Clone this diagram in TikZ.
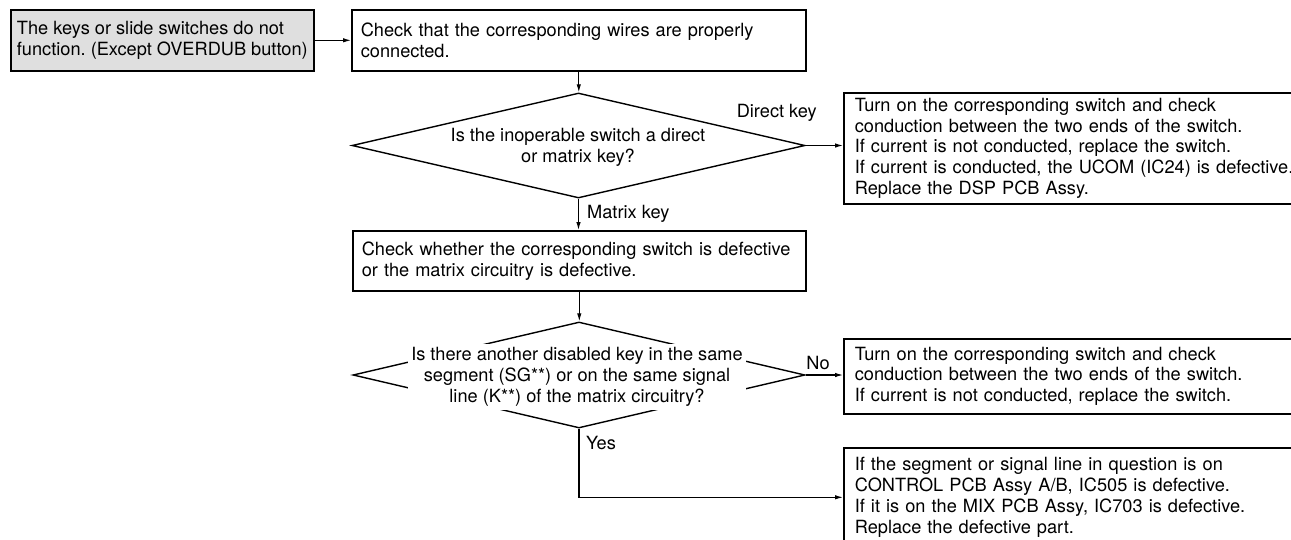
\documentclass[tikz,border=0pt]{standalone}
\usepackage{fontspec}
\setmainfont{TeX Gyre Heros}
\usetikzlibrary{shapes.geometric,arrows.meta}
\begin{document}
\begin{tikzpicture}[x=1pt,y=-1pt,
  font={\fontsize{18.2}{20.8}\selectfont\frenchspacing\hyphenpenalty=10000 },
  box/.style={draw=black,line width=1.6pt,anchor=north west,align=left,inner xsep=9pt,inner ysep=0pt},
  rbox/.style={box,inner xsep=11pt,text width=480pt},
  dia/.style={diamond,draw=black,line width=1.4pt,inner sep=0pt},
  conn/.style={line width=1.1pt,-{Latex[length=8pt,width=4.5pt]}},
  lbl/.style={inner sep=0pt}]
\useasboundingbox (0,0) rectangle (1291,539);
\clip (0,0) rectangle (1291,539);
% boxes
\node[box,fill=gray!25,inner xsep=0pt,minimum width=303pt,minimum height=61pt] (start) at (10,9)
  {The keys or slide switches do not\\function. (Except OVERDUB button)};
\node[box,text width=436pt,minimum height=61pt] (check1) at (351,9)
  {Check that the corresponding wires are properly\\connected.};
\node[dia,minimum width=453pt,minimum height=105pt] (d1) at (578.5,145.5) {};
\node[align=center,inner sep=0pt] (d1t) at (578,147)
  {Is the inoperable switch a direct\\or matrix key?};
\node[rbox,minimum height=111pt] (r1) at (843,92)
  {Turn on the corresponding switch and check\\conduction between the two ends of the switch.\\If current is not conducted, replace the switch.\\If current is conducted, the UCOM (IC24) is defective.\\Replace the DSP PCB Assy.};
\node[box,text width=435pt,minimum height=60pt] (check2) at (352,230)
  {Check whether the corresponding switch is defective\\or the matrix circuitry is defective.};
\node[dia,minimum width=452pt,minimum height=106pt] (d2) at (579,375) {};
\node[align=center,fill=white,inner xsep=3pt,inner ysep=4pt] (d2t) at (577,377)
  {Is there another disabled key in the same\\segment (SG**) or on the same signal\\line (K**) of the matrix circuitry?};
\node[rbox,minimum height=75pt] (r2) at (843,338)
  {Turn on the corresponding switch and check\\conduction between the two ends of the switch.\\If current is not conducted, replace the switch.};
\node[rbox,minimum height=99pt] (r3) at (843,447)
  {If the segment or signal line in question is on\\CONTROL PCB Assy A/B, IC505 is defective.\\If it is on the MIX PCB Assy, IC703 is defective.\\Replace the defective part.};
% connectors
\draw[conn] (start.east) -- (check1.west);
\draw[conn] (check1.south) -- (check1.south |- d1.north);
\draw[conn] (d1.east) -- (d1.east -| r1.west);
\draw[conn] (d1.south) -- (d1.south |- check2.north);
\draw[conn] (check2.south) -- (check2.south |- d2.north);
\draw[conn] (d2.east) -- (d2.east -| r2.west);
\draw[conn] (d2.south) |- (r3.west);
% labels
\node[lbl,anchor=east] (ldirect) at (817,113) {Direct key};
\node[lbl,anchor=west] (lmatrix) at (587,214) {Matrix key};
\node[lbl] (lno) at (818,363) {No};
\node[lbl,anchor=west] (lyes) at (586,443) {Yes};
\end{tikzpicture}
\end{document}
